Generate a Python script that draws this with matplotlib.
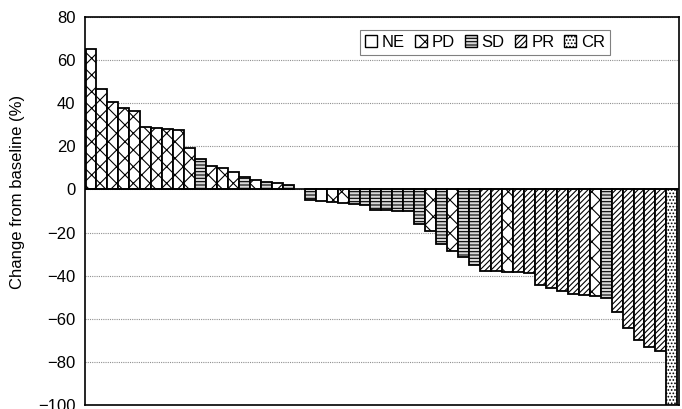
import matplotlib
matplotlib.use("Agg")
import matplotlib.pyplot as plt
from matplotlib.patches import Patch

plt.rcParams['font.family'] = ['Liberation Sans', 'DejaVu Sans']
plt.rcParams['hatch.linewidth'] = 0.8

# Response categories per patient (waterfall order)
responses = (
    ["PD"] * 10 + ["SD", "PD", "PD", "PD", "SD", "PD", "SD", "PD", "SD"]
    + ["NE"]
    + ["SD", "NE", "PD", "PD", "SD", "SD", "SD", "SD", "SD", "SD", "SD", "PD",
       "SD", "PD", "SD", "SD", "PR", "PR", "PD", "PR", "PR", "PR", "PR", "PR",
       "PR", "PR", "PD", "SD", "PR", "PR", "PR", "PR", "PR", "CR"]
)
changes = [
    65.3, 46.5, 40.8, 37.8, 36.4, 29.0, 28.6, 27.9, 27.4, 19.4,
    13.9, 11.0, 10.1, 8.0, 5.7, 4.3, 3.4, 2.9, 2.2,
    0.0,
    -4.8, -5.4, -5.9, -6.4, -6.7, -7.3, -9.5, -9.6, -9.8, -10.1,
    -16.1, -19.3, -25.4, -28.5, -31.2, -35.2, -37.7, -37.8, -38.1, -38.3,
    -38.8, -44.2, -45.7, -47.0, -48.3, -49.2, -49.6, -50.3, -57.0, -64.5,
    -69.8, -73.0, -74.8, -100.0,
]
legend_order = ["NE", "PD", "SD", "PR", "CR"]
y_ticks = [80, 60, 40, 20, 0, -20, -40, -60, -80, -100]

hatches = {"NE": "", "PD": "xx", "SD": "-----", "PR": "//////", "CR": "....."}
faces = {"NE": "white", "PD": "white", "SD": "#d8d8d8", "PR": "white", "CR": "white"}

fig = plt.figure(figsize=(6.82, 4.09), dpi=100)
ax = fig.add_axes([0.1246, 0.0098, 0.8710, 0.9486])

for xi, (val, r) in enumerate(zip(changes, responses)):
    if val == 0:
        continue
    ax.bar(xi, val, width=1.0, facecolor=faces[r], edgecolor="black",
           hatch=hatches[r], linewidth=1.3, zorder=3)

ax.set_xlim(-0.55, 53.65)
ax.set_ylim(-100, 80)
ax.set_yticks(y_ticks)
ax.set_yticklabels([str(t).replace("-", "\u2212") for t in y_ticks], fontsize=12)
ax.set_xticks([])
ax.tick_params(axis='y', length=0, pad=7)
ax.yaxis.grid(True, linestyle=(0, (1, 1)), color="#909090", linewidth=0.8, zorder=0)
ax.axhline(0, color="black", linewidth=1.2, zorder=4)
for s in ax.spines.values():
    s.set_color("black")
    s.set_linewidth(1.2)

ax.set_ylabel("Change from baseline (%)", fontsize=12)
ax.yaxis.set_label_coords(-0.1015, 0.55)

handles = [Patch(facecolor=faces[k], edgecolor="black", hatch=hatches[k],
                 linewidth=1.0, label=k) for k in legend_order]
leg = ax.legend(handles=handles, ncol=5, loc="upper right",
                bbox_to_anchor=(0.898, 0.988), fontsize=12,
                handlelength=0.7, handleheight=0.7, handletextpad=0.3,
                columnspacing=0.6, borderpad=0.3, fancybox=False,
                framealpha=1, edgecolor="#808080")
leg.get_frame().set_linewidth(0.8)

fig.savefig("out.png", dpi=100)
